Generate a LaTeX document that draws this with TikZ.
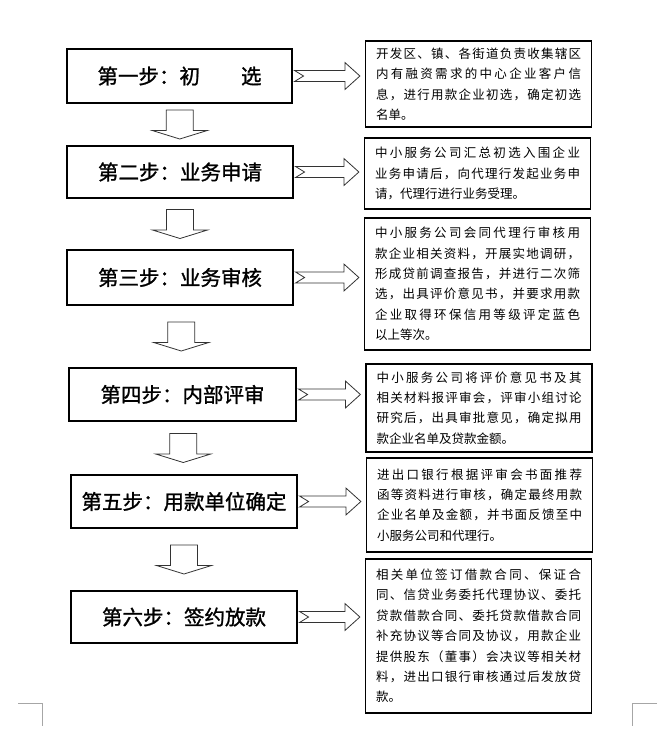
\documentclass[tikz,border=0pt]{standalone}
\usepackage{fontspec}
\usepackage{tikz}
\usetikzlibrary{calc}
\newfontfamily\cjk{Noto Sans CJK SC}
\newfontfamily\cjkstep{Noto Sans CJK SC}[FakeBold=1.2]
\newlength\linew
\setlength\linew{205pt}
\def\jlx#1{\ifx\relax#1\else#1\hfil\expandafter\jlx\fi}
\newcommand\jl[1]{\makebox[\linew][s]{\jlx#1\relax\unskip}}
\tikzset{
  stepbox/.style={draw,line width=1.1pt,minimum width=226pt,minimum height=53pt,
    inner sep=0pt,font=\cjkstep\fontsize{20.5}{24}\selectfont},
  descbox/.style={draw,line width=1.2pt,text width=\linew,inner xsep=10.5pt,
    inner ysep=2pt,align=left,font=\cjk\fontsize{12.5}{20.4}\selectfont},
  blockarrow/.style={draw=black!80,line width=0.8pt,fill=white,line join=miter},
  cropmark/.style={draw=black!35,line width=1pt},
}
\newcommand\steparrow[2]{%
  \coordinate (m) at ($(#1.south)!0.5!(#2.north)$);
  \draw[blockarrow] ([shift={(-13.5,14.5)}]m) -- ++(27,0) -- ++(0,-20.5) -- ++(14,0)
    -- ++(-27.5,-8.5) -- ++(-27.5,8.5) -- ++(14,0) -- cycle;}
\newcommand\sidearrow[2]{%
  \coordinate (t) at (#2.west |- #1.east);
  \draw[blockarrow] ([shift={(2,5.5)}]#1.east) -- ([shift={(-20,5.5)}]t) -- ++(0,8)
    -- ([xshift=-5]t) -- ([shift={(-20,-13.5)}]t) -- ++(0,8)
    -- ([shift={(2,-5.5)}]#1.east) -- ([xshift=11]#1.east) -- cycle;}

\begin{document}
\begin{tikzpicture}[x=1pt,y=1pt]
\useasboundingbox (0,0) rectangle (671,-755);
\node[stepbox,minimum width=225pt,minimum height=54pt] (s1) at (179.5,-76) {第一步：初　　选};
\node[stepbox,minimum height=52pt] (s2) at (180,-172) {第二步：业务申请};
\node[stepbox,minimum height=55pt] (s3) at (180,-277.5) {第三步：业务审核};
\node[stepbox,minimum width=227pt] (s4) at (182.5,-394.5) {第四步：内部评审};
\node[stepbox] (s5) at (184,-501.5) {第五步：用款单位确定};
\node[stepbox,minimum height=52pt] (s6) at (184,-617) {第六步：签约放款};

\node[descbox,minimum height=86pt] (d1) at (478.5,-84) {\jl{开发区、镇、各街道负责收集辖区}\\
  \jl{内有融资需求的中心企业客户信}\\ \jl{息，进行用款企业初选，确定初选}\\ 名单。};
\node[descbox,minimum height=71pt] (d2) at (477.5,-173.5) {\jl{中小服务公司汇总初选入围企业}\\
  \jl{业务申请后，向代理行发起业务申}\\ 请，代理行进行业务受理。};
\node[descbox,minimum height=132pt] (d3) at (477.5,-284) {\jl{中小服务公司会同代理行审核用}\\
  \jl{款企业相关资料，开展实地调研，}\\ \jl{形成贷前调查报告，并进行二次筛}\\
  \jl{选，出具评价意见书，并要求用款}\\ \jl{企业取得环保信用等级评定蓝色}\\ 以上等次。};
\node[descbox,minimum height=88pt] (d4) at (479,-408) {\jl{中小服务公司将评价意见书及其}\\
  \jl{相关材料报评审会，评审小组讨论}\\ \jl{研究后，出具审批意见，确定拟用}\\ 款企业名单及贷款金额。};
\node[descbox,minimum height=94pt] (d5) at (479.5,-505) {\jl{进出口银行根据评审会书面推荐}\\
  \jl{函等资料进行审核，确定最终用款}\\ \jl{企业名单及金额，并书面反馈至中}\\ 小服务公司和代理行。};
\node[descbox,minimum height=154pt] (d6) at (478.5,-636) {\jl{相关单位签订借款合同、保证合}\\
  \jl{同、信贷业务委托代理协议、委托}\\ \jl{贷款借款合同、委托贷款借款合同}\\
  \jl{补充协议等合同及协议，用款企业}\\ \jl{提供股东（董事）会决议等相关材}\\
  \jl{料，进出口银行审核通过后发放贷}\\ 款。};

\steparrow{s1}{s2} \steparrow{s2}{s3} \steparrow{s3}{s4}
\steparrow{s4}{s5} \steparrow{s5}{s6}
\sidearrow{s1}{d1} \sidearrow{s2}{d2} \sidearrow{s3}{d3}
\sidearrow{s4}{d4} \sidearrow{s5}{d5} \sidearrow{s6}{d6}

\draw[cropmark] (18,-703) -- (42,-703) -- (42,-726);
\draw[cropmark] (657,-703) -- (632,-703) -- (632,-726);
\end{tikzpicture}
\end{document}
